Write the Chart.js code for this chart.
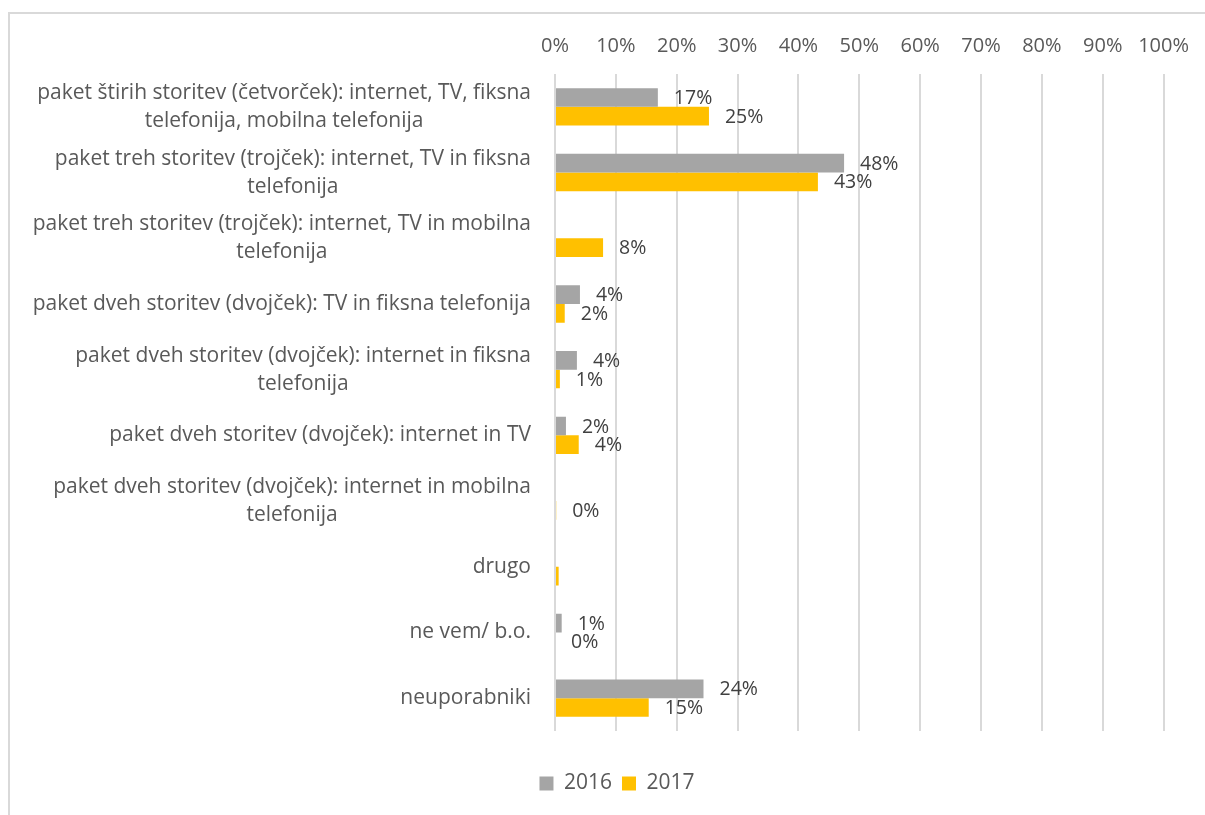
<!DOCTYPE html>
<html>
<head>
<meta charset="utf-8">
<script src="https://cdn.jsdelivr.net/npm/chart.js@4/dist/chart.umd.min.js"></script>
<style>
  html, body { margin: 0; padding: 0; background: #fff; overflow: hidden; }
  #frame { position: absolute; left: 8px; top: 12px; width: 1400px; height: 1000px;
           border-left: 2px solid #d9d9d9; border-top: 2px solid #d9d9d9; box-sizing: border-box; }
  #wrap { position: absolute; left: 0; top: 0; width: 1205px; height: 815px; }
</style>
</head>
<body>
<div id="frame"></div>
<div id="wrap"><canvas id="chart"></canvas></div>
<script>
// categories (wrapped as in the original)
const categories = [
  ['paket štirih storitev (četvorček): internet, TV, fiksna', 'telefonija, mobilna telefonija'],
  ['paket treh storitev (trojček): internet, TV in fiksna', 'telefonija'],
  ['paket treh storitev (trojček): internet, TV in mobilna', 'telefonija'],
  'paket dveh storitev (dvojček): TV in fiksna telefonija',
  ['paket dveh storitev (dvojček): internet in fiksna', 'telefonija'],
  'paket dveh storitev (dvojček): internet in TV',
  ['paket dveh storitev (dvojček): internet in mobilna', 'telefonija'],
  'drugo',
  'ne vem/ b.o.',
  'neuporabniki'
];

const values2016 = [16.9, 47.5, null, 4.1, 3.6, 1.8, null, null, 1.1, 24.4];
const values2017 = [25.3, 43.2, 7.9, 1.6, 0.8, 3.9, 0.2, 0.6, 0, 15.4];

// categories where the original shows no data labels
const hideLabels = [7];

const xTicks = [0, 10, 20, 30, 40, 50, 60, 70, 80, 90, 100];

const fontFamily = '"Open Sans", "Noto Sans", sans-serif';

// Data labels outside the bar end
const barLabels = {
  id: 'barLabels',
  afterDatasetsDraw(chart) {
    const ctx = chart.ctx;
    ctx.save();
    ctx.font = '19.5px ' + fontFamily;
    ctx.fillStyle = '#404040';
    ctx.textAlign = 'left';
    ctx.textBaseline = 'middle';
    chart.data.datasets.forEach((ds, i) => {
      const meta = chart.getDatasetMeta(i);
      meta.data.forEach((bar, j) => {
        const v = ds.data[j];
        if (v === null || hideLabels.includes(j)) return;
        ctx.fillText(Math.round(v) + '%', bar.x + 16, bar.y + 1);
      });
    });
    ctx.restore();
  }
};

// Category labels: block right-aligned to the axis, lines centred within the block
const catLabels = {
  id: 'catLabels',
  afterDraw(chart) {
    const ctx = chart.ctx;
    const yScale = chart.scales.y;
    const right = chart.chartArea.left - 24;
    const lineH = 28;
    ctx.save();
    ctx.font = '21px ' + fontFamily;
    ctx.fillStyle = '#595959';
    ctx.textAlign = 'center';
    ctx.textBaseline = 'middle';
    chart.data.labels.forEach((lab, i) => {
      const lines = Array.isArray(lab) ? lab : [lab];
      const w = Math.max(...lines.map(l => ctx.measureText(l).width));
      const cx = right - w / 2;
      const cy = yScale.getPixelForTick(i);
      const y0 = cy - (lines.length - 1) * lineH / 2;
      lines.forEach((l, k) => ctx.fillText(l, cx, y0 + k * lineH));
    });
    ctx.restore();
  }
};

new Chart(document.getElementById('chart'), {
  type: 'bar',
  data: {
    labels: categories,
    datasets: [
      { label: '2016', data: values2016, backgroundColor: '#a5a5a5',
        barPercentage: 1, categoryPercentage: 0.57 },
      { label: '2017', data: values2017, backgroundColor: '#ffc000',
        barPercentage: 1, categoryPercentage: 0.57 }
    ]
  },
  options: {
    indexAxis: 'y',
    responsive: true,
    maintainAspectRatio: false,
    animation: false,
    layout: { padding: { left: 70, right: 41, top: 28, bottom: 11 } },
    plugins: {
      legend: {
        position: 'bottom',
        labels: {
          color: '#595959',
          font: { family: fontFamily, size: 21 },
          boxWidth: 14, boxHeight: 14, padding: 10
        }
      },
      tooltip: { enabled: false }
    },
    scales: {
      x: {
        position: 'top',
        min: 0, max: 100,
        afterBuildTicks: s => { s.ticks = xTicks.map(v => ({ value: v })); },
        ticks: {
          color: '#595959',
          font: { family: fontFamily, size: 20 },
          padding: 16,
          callback: v => v + '%'
        },
        grid: { color: '#d9d9d9', lineWidth: 2, drawTicks: false },
        border: { display: false },
        afterFit: s => { s.height = 46; }
      },
      // spacer between plot and legend
      x2: {
        position: 'bottom',
        axis: 'x',
        display: true,
        ticks: { display: false },
        grid: { display: false, drawTicks: false },
        border: { display: false },
        afterFit: s => { s.height = 32; }
      },
      y: {
        ticks: { display: false },
        grid: { display: false, drawTicks: false },
        border: { display: false },
        afterFit: s => { s.width = 485; }
      }
    }
  },
  plugins: [barLabels, catLabels]
});
</script>
</body>
</html>
